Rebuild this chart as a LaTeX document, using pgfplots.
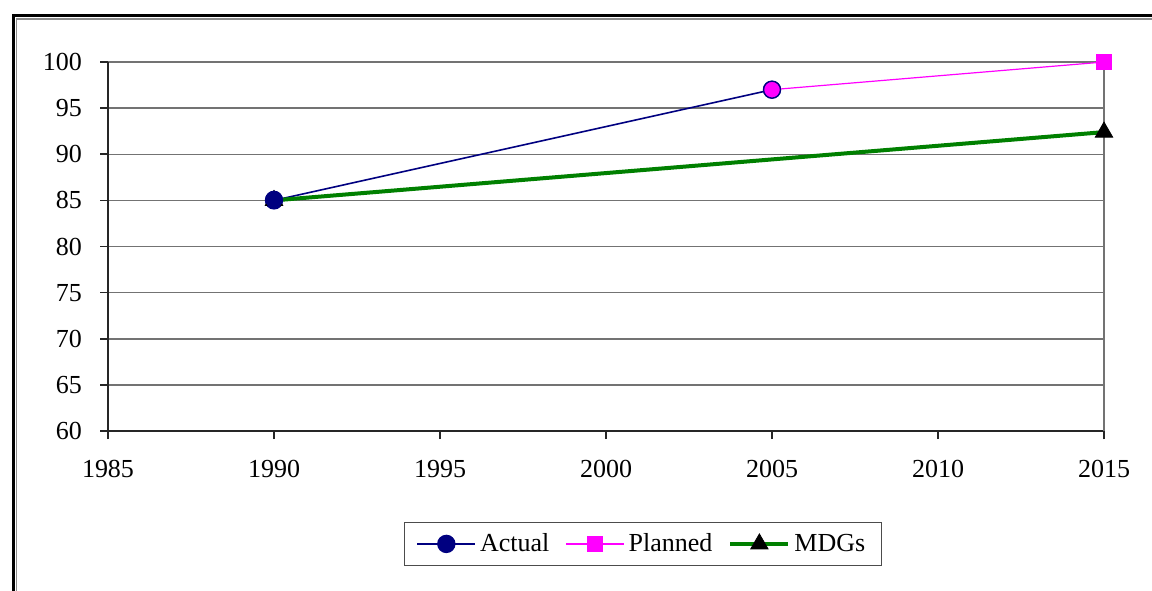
\documentclass[border=0pt]{standalone}
\usepackage{pgfplots}
\pgfplotsset{compat=1.18}
\usepackage{fontspec}
\setmainfont{Liberation Serif}
\definecolor{navy}{HTML}{000080}
\definecolor{mag}{HTML}{FF00FF}
\definecolor{grn}{HTML}{008000}
\begin{document}
\begin{tikzpicture}[x=0.5pt,y=0.5pt]
\path[use as bounding box,fill=white] (0,0) rectangle (1152,590);
\begin{scope}
\clip (0,0) rectangle (1152,590);
\draw[line width=1.5pt,black] (13,-10) -- (13,574.5) -- (1160,574.5);
\draw[line width=0.6pt,black!45] (16.5,-10) -- (16.5,571) -- (1160,571);
\end{scope}
\begin{axis}[
  at={(54pt,79.5pt)}, anchor=south west,
  scale only axis, width=498pt, height=184.5pt,
  xmin=1985, xmax=2015, ymin=60, ymax=100,
  xtick={1985,1990,...,2015}, ytick={60,65,...,100},
  /pgf/number format/assume math mode=true,
  /pgf/number format/1000 sep={},
  tick label style={font=\fontsize{13}{15}\selectfont},
  yticklabel style={xshift=-5.5pt},
  xticklabel style={yshift=-7pt},
  axis x line*=bottom, axis y line*=left,
  axis line style={black!85,line width=0.8pt},
  tick align=outside, major tick length=4pt,
  tick style={black!85,line width=0.8pt},
  ymajorgrids, grid style={black!55,line width=0.75pt},
  extra x ticks={2015}, extra x tick labels={},
  extra x tick style={xmajorgrids, grid style={black!55,line width=0.75pt}},
  clip=false,
  legend columns=3,
  legend style={at={(0.537,-0.306)}, anchor=center, draw=black!70, line width=0.6pt,
    font=\fontsize{13}{15}\selectfont, inner xsep=6pt, inner ysep=3.5pt,
    /tikz/every even column/.append style={column sep=6pt}},
  legend image code/.code={\draw[mark repeat=2,mark phase=2] plot coordinates {(0pt,0pt)(14.5pt,0pt)(29pt,0pt)};},
]
\addplot[navy, line width=0.8pt, mark=*, mark size=4.2pt, mark options={fill=navy, draw=navy}]
  coordinates {(1990,85) (2005,97)};
\addlegendentry{Actual}
\addplot[mag, line width=0.6pt, mark=square*, mark size=3.6pt, mark indices={2}, mark options={fill=mag, draw=mag}]
  coordinates {(2005,97) (2015,100)};
\addlegendentry{Planned}
\addplot[grn, line width=2pt, mark=triangle*, mark size=5pt, mark options={fill=black, draw=black, line width=0.4pt}]
  coordinates {(1990,85) (2015,92.4)};
\addlegendentry{MDGs}
\addplot[only marks, mark=*, mark size=4.2pt, mark options={fill=mag, draw=navy, line width=0.6pt}, forget plot]
  coordinates {(2005,97)};
\addplot[only marks, mark=*, mark size=4.2pt, mark options={fill=navy, draw=navy}, forget plot]
  coordinates {(1990,85.1)};
\end{axis}
\end{tikzpicture}
\end{document}
